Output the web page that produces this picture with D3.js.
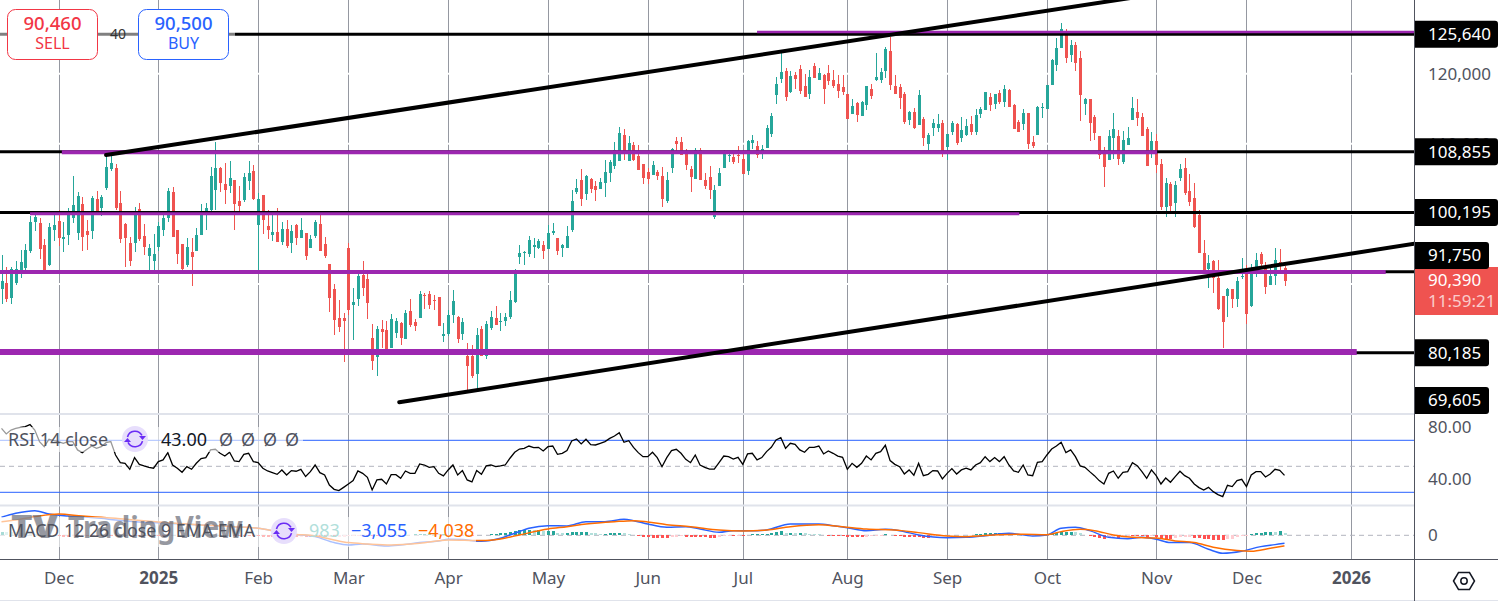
<!DOCTYPE html>
<html>
<head>
<meta charset="utf-8">
<script src="https://cdn.jsdelivr.net/npm/d3@7"></script>
<style>
  html, body { margin: 0; padding: 0; background: #fff; overflow: hidden; }
  text { font-family: "Noto Sans", sans-serif; }
</style>
</head>
<body>
<svg id="chart" width="1498" height="601"></svg>
<script>
// daily candles
const highs = [94130,92410,92410,93270,94840,95700,99680,100110,99400,96410,98690,99830,100540,98830,100830,105390,103110,102400,99120,102540,103260,102680,108390,108390,107100,103260,98690,96700,100970,101540,98550,95700,97120,98830,99830,103680,103820,97690,95700,96550,96550,97980,101400,101540,106670,110240,106670,107240,107530,104820,103970,105820,107530,106960,102970,102680,100540,99830,100830,98830,99120,98410,98550,99400,97260,96980,99120,99830,96700,92840,89990,87710,85860,95840,89420,91420,93270,91420,84290,84000,84860,84720,85710,85140,84570,86280,87850,85000,88990,88710,88990,88420,88140,84430,86280,89140,85430,85140,81580,81290,83720,84000,84720,86140,86850,85860,85860,88990,92130,95550,94700,96840,96550,96410,96120,98410,98690,96550,95700,98260,103400,104960,106390,105530,105110,104680,105110,107670,107670,110240,112380,112100,111100,110240,109810,107100,106530,107530,106250,106670,105960,109390,110950,110950,109240,106820,109390,109390,105820,106820,104110,106530,109100,108810,108530,109670,109100,110530,111240,110380,109810,112660,114380,119510,123070,120790,120370,120220,121220,119940,120510,121510,120790,119940,121220,120510,119800,119800,117090,116370,115940,116090,118230,118510,122930,120790,123790,125210,119800,118510,117370,114660,115090,117660,113810,111520,113520,114230,113380,111380,113240,112950,113810,113520,113950,114950,115230,117370,117230,117090,117660,118370,117800,115660,113380,114950,114380,111100,115380,115800,118370,122080,125070,127210,126350,124790,124500,123220,116520,116370,114090,111100,109530,111950,114380,111950,111810,112380,116660,116370,114380,112380,111670,111380,107820,105110,104540,104680,107100,107960,105680,104390,100540,96270,94130,93410,93410,88280,89420,89280,90990,93700,92700,92840,94410,94560,93130,92700,95130,94980,92560];
const lows = [87140,87420,87140,89850,90850,91990,94410,97550,93560,91990,92560,96120,95410,94550,95550,98690,96270,94700,94840,96410,99970,99690,103400,106110,100540,95840,92410,92560,94550,96120,94130,91990,91990,94700,96840,98830,96700,92840,91990,92410,89710,94700,96980,97690,100400,100540,103110,101400,102970,97690,100400,101680,103400,101970,91990,97120,96410,96120,95980,95550,95130,94410,95550,96550,93410,95130,96550,94700,93700,86000,82720,83150,78870,85570,82010,86850,88280,85000,77730,76870,80870,80720,80870,82290,81290,82150,83860,83290,85140,86430,86430,86280,84000,81720,82580,84430,81580,82010,74880,76590,74880,79720,79300,83430,84150,83290,84000,85000,87280,92840,92700,93840,93700,94980,93560,94980,96980,94130,93840,95130,97410,102830,101120,101970,102970,101830,103540,102400,104540,106390,107530,107670,107530,107530,106250,104250,104250,105530,104820,100970,101540,105820,108530,108390,106250,103110,104960,104820,103540,102110,99260,103970,106530,107390,107100,107250,105680,105530,109240,107960,107820,109390,110950,115660,118650,116090,117230,117800,117090,116660,116370,119370,119080,115660,118370,117940,116520,116940,113520,114230,113090,113950,114800,116370,118940,118650,119370,117660,117090,114950,112810,112660,112100,112660,109670,109100,111100,111670,108100,107670,111240,109810,110240,111100,111240,111240,113660,114800,114660,114950,115660,115230,115230,112100,111670,111950,109240,109390,111240,113660,114950,118370,120370,123640,121510,121650,120370,113240,114090,110380,110530,107820,103820,107670,107820,106960,107100,109810,113380,112520,111100,106820,107960,105820,100540,99550,99970,99550,104680,102680,101120,97980,94410,91850,89420,88710,86280,80870,85290,86570,86710,90700,84290,86710,90990,92410,88570,89850,89850,91990,89710];
const opens = [89280,90130,87990,90130,91990,92270,94700,98830,98690,95550,92700,97690,98980,96410,96980,99400,97260,101400,97550,97550,102110,100830,103680,106390,106530,101540,98550,95840,95840,100690,96840,93980,93270,95270,97690,99400,103110,97690,95700,92700,94550,94700,96980,100400,100540,103400,106530,104250,103970,104820,101830,101970,104680,106110,98410,102680,98260,96980,97410,95980,97830,95840,98410,96550,97260,95130,96840,98550,95700,92840,89280,85140,85140,95130,86990,87850,91270,90700,82290,79580,83570,83430,80870,83000,84430,82150,86140,84570,85140,88420,88570,87710,88140,82580,82860,85570,85290,82860,79720,79720,77160,83570,79720,83720,85140,84570,84720,85290,87420,93840,94410,94270,95270,95130,95550,94980,97260,96550,95130,95130,97690,103110,104820,102830,104960,103970,103540,104390,105820,106820,107530,111240,107530,109810,108240,107100,105960,105530,105960,105390,101830,106530,110380,110240,108530,106390,104960,109100,104820,105250,99550,103970,106530,108240,108100,108390,107820,106110,110100,109670,108960,109390,111380,116940,119220,120370,117370,119800,120650,118230,117090,121080,119080,119800,120080,119080,118510,118080,117090,114230,115800,113950,115520,117800,119080,119080,120370,123220,118230,118080,117090,113380,114520,112660,113520,109950,112240,112240,112950,109530,111670,112810,110810,111240,112810,111670,114230,114800,116660,115660,117230,115940,117660,115520,113090,112810,114380,110240,111240,115090,114950,118370,121220,123640,125500,122650,124070,122220,115660,116370,113810,111100,108960,107670,110810,111100,107390,109810,113380,114520,113810,112100,109100,110380,107100,100970,104250,101540,105110,106530,103260,102260,99830,94410,92130,93270,90850,88280,88280,89280,87850,90990,91850,86850,91420,94270,92270,89850,91130,93130,92270];
const closes = [90420,87850,92130,92130,93130,94840,98830,99550,94980,91990,98120,98410,96550,96700,99970,101260,102540,96700,96980,102260,100400,102400,106670,107240,100830,96410,96550,93270,99830,96410,95270,95130,94270,98260,99400,103260,96700,94270,92130,95270,93840,96980,99830,100830,105390,106530,104390,103400,105110,101400,101120,105250,105820,102110,102110,99120,97690,97410,95980,97830,95410,97550,96550,97690,93980,96410,98830,94700,93980,87990,84860,83860,84720,86280,87420,91130,89420,87280,79010,83570,83150,80720,85000,84720,82290,85860,84150,84000,88570,88280,86990,87570,84000,82860,85570,87570,82150,84570,78300,76870,82720,79720,84290,85290,84150,84720,85290,87710,91990,94410,94550,96270,95550,96120,94700,97260,97550,94700,95550,96840,101830,103680,102110,105390,103540,103400,104540,105960,107390,109100,111520,108530,110100,107670,106250,105110,104960,106960,105390,102110,104820,109240,109950,108390,106960,105250,109100,104820,103970,103400,103400,105820,108670,108390,107390,108240,105680,110380,110530,108390,109240,112240,113950,118510,120220,116660,119650,119220,117510,116660,119510,119370,120080,117800,118940,118230,117510,117370,113520,115370,114090,115950,118230,116800,119510,120220,123500,118370,117090,116520,113090,114520,112240,116940,110810,111240,112950,112810,108810,111380,112950,110100,111950,112520,111670,114090,114950,117370,115520,117090,115940,117800,115230,112100,111670,114380,109950,109670,115230,115230,118370,121930,123640,126350,122220,124070,121510,116940,116370,112950,111520,108390,106670,111100,112100,107820,110530,110810,115090,113660,111100,106820,110380,106960,100970,104390,101120,104110,106390,102970,101680,98120,94410,91850,92990,90850,86430,84570,89280,87850,90420,91130,85720,91420,93410,92840,89560,91130,93410,92840,90390];

const rsiValues = [79.2,74.9,77.9,79.2,80,80.5,82.1,77.9,69,65.1,70.8,69.7,69,67.7,69,69,62.6,60.5,63.1,65.6,63.8,65.1,68.2,69,58.7,52.8,52.3,47.7,56.7,51.5,50.3,49.2,48.5,53.6,54.9,60.5,51,48.5,45.4,49.7,47.7,52.3,55.9,56.7,62.6,63.1,60,57.9,60.8,54.1,53.6,59.2,60,53.6,52.8,48.5,46.4,45.1,43.8,47.2,43.3,46.7,46.2,47.7,42.1,45.9,51,45.1,43.3,35.6,32.3,31.3,33.8,36.4,39,46.4,44.6,41.5,31.8,39.5,40,36.4,43.6,43.6,40.8,46.4,44.6,44.6,51.8,51,49.2,49.7,44.6,42.6,47.2,51,43.3,46.7,39.5,38,46.7,43.8,50.3,51,49.7,
  50.3,51,56.2,60.8,63.3,63.8,65.6,64.4,64.6,61.8,65.1,65.6,59.2,60,62.1,69.5,71,67.2,70.8,66.7,66.4,67.7,69,71.5,73.3,75.9,68.5,69.7,64.6,60.5,57.4,57.4,60.8,56.7,49.7,56.7,62.1,63.1,60,55.4,52.8,58.7,51,49.2,47.9,47.9,52.8,57.9,57.4,55.6,56.9,51.5,59.5,60,54.9,56.7,61.3,64.6,70.3,72.1,63.8,67.7,66.9,62.6,60.8,64.6,64.6,65.6,59.5,61.8,60,57.9,56.9,47.7,52.3,49.2,52.3,57.9,54.9,60,61.3,66.2,54.4,51.5,49.7,44.1,47.2,43.1,52.3,42.8,43.8,46.7,46.4,40.3,44.6,48.2,44.1,47.2,48.5,47.2,51,52.8,57.4,53.6,56.7,53.6,
  57.4,51,46.4,45.4,51,43.3,42.8,53.1,53.6,58.7,63.3,65.6,68.5,60.5,62.6,57.4,50.3,49.2,45.9,42.8,39,36.4,44.6,46.4,40.8,45.4,45.9,52.8,50.5,45.9,40.8,47.2,42.8,36.4,41,37.7,42.1,46.2,42.8,40.8,36.4,33.6,31.8,33.8,30.5,28.2,26.7,35.4,34.4,39,40,34.4,43.3,45.9,45.9,41.8,44.1,47.7,46.9,43];
const rsiBands = [70, 50, 30];
const rsiTicks = [80, 40];

const macdBars = [0,3,7,10,14,17,21,24,28,35,42,49,54,58,61,66,70,73,76,81,84,88,92,94,97,101,105,108,111,115,119,123,127,131,133,136,140,144,147,151,154,159,161,166,172,175,178,182,186,189,193,199,203,207,210,212,217,220,223,226,229,233,237,240,243,246,250,254,257,261,265,268,270];
const macdLine = [6860,8380,9400,8130,7370,7110,6480,5840,5210,4570,3940,3300,2670,1400,510,-510,-2790,-3680,-3300,-4060,-3680,-2790,-2160,-1520,-1650,-2290,-1140,760,2670,3680,3560,5210,5210,6100,5590,4320,3050,3300,2410,1140,1780,1780,2030,4320,4320,3680,2920,1780,2290,1780,130,-890,-760,-130,510,760,-250,130,2670,3050,1780,-760,-1270,-760,-1520,-2790,-2790,-5330,-6860,-6100,-4320,-3560,-3055];
const signalBars = [0,3,7,12,17,21,24,28,35,42,49,54,58,61,66,70,73,77,82,88,94,101,105,109,115,119,123,129,133,136,140,145,151,156,161,166,172,177,182,188,193,199,203,210,215,220,223,227,230,234,238,243,247,251,255,260,263,267,270];
const signalLine = [5210,5840,7110,8130,7370,6860,6480,5840,4830,3940,3300,2670,1400,510,-250,-1780,-2790,-3300,-3680,-3050,-1780,-2030,-1400,130,2410,3300,4320,5210,5590,5080,4060,3300,2030,1650,2030,3300,4060,3300,2410,2030,1020,-250,-510,250,380,250,1400,2290,1780,130,-760,-1020,-2160,-2790,-4570,-5840,-6100,-4950,-4038];
const histValues = [1400,1300,1200,1100,1000,900,500,400,200,100,-100,-300,-400,-500,-500,-400,-400,-300,-300,-300,-300,-200,-200,-200,-200,-100,-100,-100,-100,-100,-100,-100,-100,-100,-100,-50,-50,50,50,50,100,100,100,50,50,50,-50,-50,-50,-100,-100,-100,-150,-200,-250,-500,-700,-800,-900,-800,-700,-500,-600,-500,-500,-500,-600,-800,-800,-700,-700,-600,-500,-400,-300,-200,-100,-200,-200,-300,-300,-200,-100,100,200,200,300,400,500,600,600,500,400,400,300,300,200,100,-100,-100,200,300,300,400,500,
  1020,1020,1270,1520,1910,1910,2160,1910,1910,1520,1520,1520,1020,760,760,1270,1270,1270,1270,890,760,640,640,890,890,890,760,640,250,-380,-640,-760,-890,-1020,-1140,-1140,-760,-510,-380,-510,-510,-510,-640,-760,-890,-890,-760,-380,-250,-250,-130,-130,130,380,510,510,640,890,1270,1650,1020,1020,890,890,760,640,510,380,250,-130,-130,-250,-250,-510,-510,-640,-640,-510,-380,-250,-130,380,130,-130,-380,-510,-640,-760,-760,-890,-1020,-380,-130,0,130,130,130,130,250,250,380,510,760,890,1020,1020,
  1020,760,640,510,380,250,130,130,130,380,640,1020,1270,1270,1270,1140,760,0,-380,-760,-1020,-1520,-1020,-640,-1020,-510,-380,-380,-380,-380,-510,-380,-640,-1020,-1270,-1520,-1020,-760,-640,-510,-890,-1140,-1270,-1520,-1650,-1780,-1780,-1520,-1270,-760,-250,-130,510,760,1020,1140,1270,1140,1650,983];

const monthBars = [12,33,54,73,94,115,136,156,178,199,220,243,262,284];
const monthLabels = ["Dec","2025","Feb","Mar","Apr","May","Jun","Jul","Aug","Sep","Oct","Nov","Dec","2026"];
const priceGrid = [120000,110000,100000,90000,80000];
const priceTicks = [120000,110000];

// drawn levels
const blackLevels = [125640,108855,100195,91750,80185];
const levelLabels = ["125,640","108,855","100,195","91,750","80,185","69,605"];
const levelTagPrices = [125640,108855,100195,94060,80185,73380];
const purpleLevels = [
  { price: 125950, from: 159, to: 298, w: 2.5 },
  { price: 108800, from: 12.7, to: 243.2, w: 4 },
  { price: 100030, from: 6, to: 214.2, w: 3 },
  { price: 91700, from: -1, to: 291.3, w: 4 },
  { price: 80300, from: -1, to: 285.2, w: 6 }
];
const trendLines = [
  { bars: [22, 240], prices: [108390, 131060] },
  { bars: [83.7, 297.4], prices: [73120, 95740] }
];

const GREEN = "#26a69a", RED = "#ef5350", PURPLE = "#9c27b0", BLUE = "#2962ff", ORANGE = "#ff6d00";
const AXIS_TEXT = "#50535e";
const PANE_RIGHT = 1414;

const svg = d3.select("#chart");

const x = d3.scaleLinear().domain([0, 270]).range([1.5, 1284.5]);
const y = d3.scaleLinear().domain([125640, 80185]).range([34.2, 352.7]);
const yRsi = d3.scaleLinear().domain([70, 30]).range([440.3, 492.3]);
const yMacd = d3.scaleLinear().domain([0, -3055]).range([535.3, 543.3]);
const barX = i => Math.round(x(i));

svg.append("defs").append("clipPath").attr("id", "mainClip")
  .append("rect").attr("x", 0).attr("y", 0).attr("width", PANE_RIGHT).attr("height", 413);

// vertical grid
svg.append("g").selectAll("line").data(monthBars).enter().append("line")
  .attr("x1", d => barX(d) + 0.5).attr("x2", d => barX(d) + 0.5)
  .attr("y1", 0).attr("y2", 559)
  .attr("stroke", "#9598a1").attr("stroke-width", 1);

// white horizontal grid cuts through the vertical lines
svg.append("g").selectAll("line").data(priceGrid).enter().append("line")
  .attr("x1", 0).attr("x2", PANE_RIGHT)
  .attr("y1", d => y(d)).attr("y2", d => y(d))
  .attr("stroke", "#fff").attr("stroke-width", 2);

// pane separators
svg.append("g").selectAll("line").data([414, 505.5]).enter().append("line")
  .attr("x1", 0).attr("x2", PANE_RIGHT).attr("y1", d => d).attr("y2", d => d)
  .attr("stroke", "#e0e3eb").attr("stroke-width", 2);

// candles
const main = svg.append("g").attr("clip-path", "url(#mainClip)");
const candleG = main.append("g").attr("shape-rendering", "crispEdges");
const bars = d3.range(opens.length);
const candleColor = i => closes[i] >= opens[i] ? GREEN : RED;

candleG.selectAll("rect.wick").data(bars).enter().append("rect")
  .attr("class", "wick")
  .attr("x", i => barX(i)).attr("width", 1)
  .attr("y", i => Math.round(y(highs[i])))
  .attr("height", i => Math.max(1, Math.round(y(lows[i])) - Math.round(y(highs[i]))))
  .attr("fill", candleColor);

candleG.selectAll("rect.body").data(bars).enter().append("rect")
  .attr("class", "body")
  .attr("x", i => barX(i) - 1).attr("width", 3)
  .attr("y", i => Math.round(y(Math.max(opens[i], closes[i]))))
  .attr("height", i => Math.max(1, Math.round(y(Math.min(opens[i], closes[i]))) - Math.round(y(Math.max(opens[i], closes[i])))))
  .attr("fill", candleColor);

// black levels, purple on top, trend lines last
main.append("g").selectAll("line").data(blackLevels).enter().append("line")
  .attr("x1", 0).attr("x2", PANE_RIGHT)
  .attr("y1", d => y(d)).attr("y2", d => y(d))
  .attr("stroke", "#000").attr("stroke-width", 3);

main.append("g").selectAll("line").data(purpleLevels).enter().append("line")
  .attr("x1", d => x(d.from)).attr("x2", d => x(d.to))
  .attr("y1", d => y(d.price)).attr("y2", d => y(d.price))
  .attr("stroke", PURPLE).attr("stroke-width", d => d.w);

main.append("g").selectAll("line").data(trendLines).enter().append("line")
  .attr("x1", d => x(d.bars[0])).attr("x2", d => x(d.bars[1]))
  .attr("y1", d => y(d.prices[0])).attr("y2", d => y(d.prices[1]))
  .attr("stroke", "#000").attr("stroke-width", 4).attr("stroke-linecap", "round");

// RSI pane
svg.append("g").selectAll("line").data(rsiBands).enter().append("line")
  .attr("x1", 0).attr("x2", PANE_RIGHT)
  .attr("y1", d => yRsi(d)).attr("y2", d => yRsi(d))
  .attr("stroke", d => d === 50 ? "#b2b5be" : BLUE)
  .attr("stroke-width", 1)
  .attr("stroke-dasharray", d => d === 50 ? "5 4" : null);

svg.append("path")
  .attr("d", d3.line().x((d, i) => x(i)).y(d => yRsi(d))(rsiValues))
  .attr("fill", "none").attr("stroke", "#000").attr("stroke-width", 1.3);

// MACD pane
svg.append("line").attr("x1", 0).attr("x2", PANE_RIGHT)
  .attr("y1", yMacd(0)).attr("y2", yMacd(0))
  .attr("stroke", "#b2b5be").attr("stroke-dasharray", "5 4");

const histColor = (v, i) => {
  const prev = i ? histValues[i - 1] : 0;
  if (v >= 0) return v >= prev ? GREEN : "#b2dfdb";
  return v <= prev ? "#ff5252" : "#ffcdd2";
};
svg.append("g").attr("shape-rendering", "crispEdges")
  .selectAll("rect").data(histValues).enter().append("rect")
  .attr("x", (d, i) => barX(i) - 1).attr("width", 3)
  .attr("y", d => Math.min(yMacd(d), yMacd(0)))
  .attr("height", d => Math.abs(yMacd(d) - yMacd(0)))
  .attr("fill", histColor);

const smoothLine = d3.line().x(d => x(d[0])).y(d => yMacd(d[1])).curve(d3.curveMonotoneX);
svg.append("path").attr("d", smoothLine(macdBars.map((b, i) => [b, macdLine[i]])))
  .attr("fill", "none").attr("stroke", BLUE).attr("stroke-width", 1.5);
svg.append("path").attr("d", smoothLine(signalBars.map((b, i) => [b, signalLine[i]])))
  .attr("fill", "none").attr("stroke", ORANGE).attr("stroke-width", 1.5);

// watermark and legends sit over a whitish haze
svg.append("rect").attr("x", 0).attr("y", 427).attr("width", 303).attr("height", 25).attr("fill", "#fff").attr("opacity", 0.6);
svg.append("rect").attr("x", 0).attr("y", 517).attr("width", 476).attr("height", 30).attr("fill", "#fff").attr("opacity", 0.6);

svg.append("text").attr("x", 11).attr("y", 538).text("TV")
  .attr("font-size", 32).attr("font-weight", 900).attr("fill", "#6a6d78").attr("opacity", 0.7)
  .attr("textLength", 47).attr("lengthAdjust", "spacingAndGlyphs");
svg.append("text").attr("x", 68).attr("y", 538).text("TradingView")
  .attr("font-size", 30).attr("font-weight", 700).attr("fill", "#6a6d78").attr("opacity", 0.7)
  .attr("textLength", 175).attr("lengthAdjust", "spacingAndGlyphs");

function legendText(str, lx, ly, color, size) {
  return svg.append("text").attr("x", lx).attr("y", ly).text(str)
    .attr("font-size", size || 18).attr("fill", color);
}
function refreshIcon(cx, cy) {
  svg.append("circle").attr("cx", cx).attr("cy", cy).attr("r", 13).attr("fill", "#e7defc");
  const arc = d3.arc().innerRadius(7).outerRadius(8.6);
  [[-1.3, 1.1], [1.85, 4.25]].forEach(a => {
    svg.append("path").attr("transform", `translate(${cx},${cy})`)
      .attr("d", arc({ startAngle: a[0], endAngle: a[1] })).attr("fill", "#6a2cf5");
  });
  svg.append("path").attr("d", `M${cx + 4},${cy - 3}h7l-3.5,4z`).attr("fill", "#6a2cf5");
  svg.append("path").attr("d", `M${cx - 4},${cy + 3}h-7l3.5,-4z`).attr("fill", "#6a2cf5");
}

legendText("RSI 14 close", 8, 446, "#50535e");
refreshIcon(135, 439);
legendText("43.00", 161, 446, "#131722");
["Ø", "Ø", "Ø", "Ø"].forEach((s, i) => legendText(s, 219 + i * 22, 446, "#50535e"));

legendText("MACD 12 26 close 9 EMA EMA", 8, 537, "#50535e", 17.8);
refreshIcon(284, 531);
legendText("983", 309, 537, "#b2dfdb");
legendText("−3,055", 351, 537, BLUE);
legendText("−4,038", 418, 537, ORANGE);

// time axis
svg.append("line").attr("x1", 0).attr("x2", 1498).attr("y1", 559.5).attr("y2", 559.5).attr("stroke", "#50535e");
svg.append("line").attr("x1", 0).attr("x2", 1498).attr("y1", 600.5).attr("y2", 600.5).attr("stroke", "#e0e3eb");

const timeAxis = svg.append("g").attr("transform", "translate(0,563)")
  .call(d3.axisBottom(x).tickValues(monthBars).tickSize(0).tickFormat((d, i) => monthLabels[i]));
timeAxis.select(".domain").remove();
timeAxis.selectAll("text")
  .attr("font-family", '"Noto Sans", sans-serif').attr("font-size", 17)
  .attr("y", 9).attr("fill", AXIS_TEXT)
  .attr("font-weight", d => (d === 33 || d === 284) ? 700 : 400);

// right price axis
svg.append("line").attr("x1", 1414.5).attr("x2", 1414.5).attr("y1", 0).attr("y2", 601).attr("stroke", "#50535e");
function rightAxis(scale, ticks, fmt) {
  const g = svg.append("g").attr("transform", "translate(1428,0)")
    .call(d3.axisRight(scale).tickValues(ticks).tickSize(0).tickPadding(0).tickFormat(fmt));
  g.select(".domain").remove();
  g.selectAll("text")
    .attr("font-family", '"Noto Sans", sans-serif').attr("font-size", 17).attr("fill", AXIS_TEXT);
}
rightAxis(y, priceTicks, d3.format(","));
rightAxis(yRsi, rsiTicks, d3.format(".2f"));
rightAxis(yMacd, [0], d3.format("d"));

// current price tag
svg.append("rect").attr("x", 1415).attr("y", 267).attr("width", 83).attr("height", 48).attr("fill", RED);
svg.append("text").attr("x", 1428).attr("y", 286).text("90,390").attr("font-size", 17).attr("fill", "#fff");
svg.append("text").attr("x", 1428).attr("y", 307).text("11:59:21").attr("font-size", 17).attr("fill", "#fff").attr("opacity", 0.7);

// level tags
levelLabels.forEach((label, i) => {
  const cy = y(levelTagPrices[i]);
  const full = i < 3;
  const w = full ? 83 : 74;
  const path = d3.path();
  path.moveTo(1415, cy - 13.5);
  path.lineTo(1415 + w - 3, cy - 13.5);
  path.quadraticCurveTo(1415 + w, cy - 13.5, 1415 + w, cy - 10.5);
  path.lineTo(1415 + w, cy + 10.5);
  path.quadraticCurveTo(1415 + w, cy + 13.5, 1415 + w - 3, cy + 13.5);
  path.lineTo(1415, cy + 13.5);
  path.closePath();
  svg.append("path").attr("d", path.toString()).attr("fill", "#000");
  svg.append("text").attr("x", 1428).attr("y", cy + 6).text(label).attr("font-size", 17).attr("fill", "#fff");
});

// settings hexagon
svg.append("path").attr("d", "M1453.5,581L1458.5,572.5H1469.5L1474.5,581L1469.5,589.5H1458.5Z")
  .attr("fill", "none").attr("stroke", "#131722").attr("stroke-width", 1.5);
svg.append("circle").attr("cx", 1464).attr("cy", 581).attr("r", 3.2)
  .attr("fill", "none").attr("stroke", "#131722").attr("stroke-width", 1.5);

// sell / buy buttons
svg.append("rect").attr("x", 0).attr("y", 30).attr("width", 235).attr("height", 9).attr("fill", "#fff").attr("opacity", 0.5);
svg.append("text").attr("x", 118).attr("y", 39).text("40").attr("text-anchor", "middle").attr("font-size", 14).attr("fill", "#333");

function tradeButton(bx, color, price, label) {
  svg.append("rect").attr("x", bx).attr("y", 9.5).attr("width", 90).attr("height", 50).attr("rx", 8)
    .attr("fill", "#fff").attr("stroke", color);
  svg.append("text").attr("x", bx + 45).attr("y", 30).attr("text-anchor", "middle").text(price)
    .attr("font-size", 18.5).attr("font-weight", 500).attr("fill", color);
  svg.append("text").attr("x", bx + 45).attr("y", 49).attr("text-anchor", "middle").text(label)
    .attr("font-size", 16).attr("fill", color);
}
tradeButton(7.5, "#f23645", "90,460", "SELL");
tradeButton(138.5, BLUE, "90,500", "BUY");
</script>
</body>
</html>
